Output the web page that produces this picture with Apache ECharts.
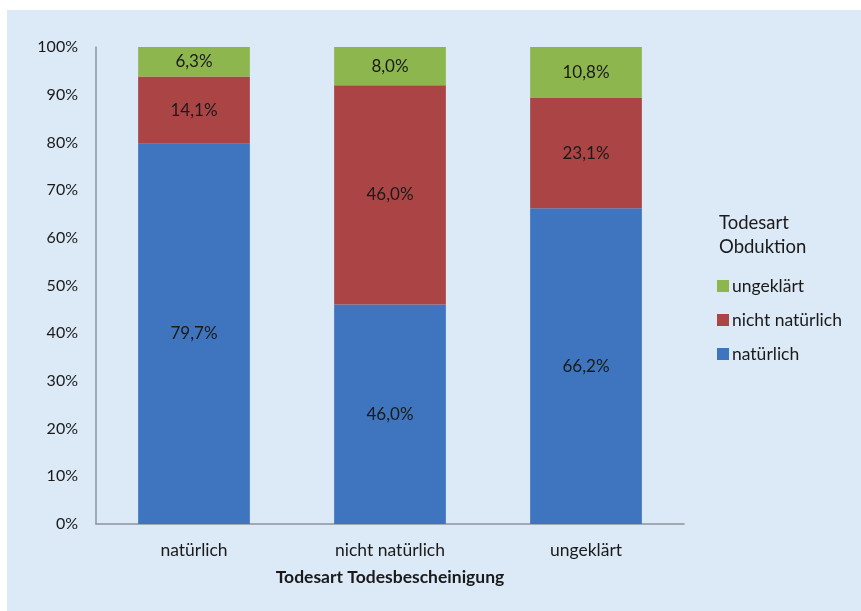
<!DOCTYPE html>
<html><head><meta charset="utf-8">
<script src="https://cdn.jsdelivr.net/npm/echarts@6/dist/echarts.min.js"></script>
<style>
html,body{margin:0;padding:0;background:#fff;}
#bg{position:absolute;left:7px;top:10px;width:854px;height:601px;background:#dce9f6;}
#c{position:absolute;left:0;top:0;width:861px;height:611px;}
</style></head>
<body><div id="bg"></div><div id="c"></div>
<script>
const categories = ['natürlich', 'nicht natürlich', 'ungeklärt'];
const natuerlich = [79.7, 46.0, 66.2];
const nichtNatuerlich = [14.1, 46.0, 23.1];
const ungeklaert = [6.3, 8.0, 10.8];
const yTicks = [0, 10, 20, 30, 40, 50, 60, 70, 80, 90, 100];

const FONT = 'Lato, "Open Sans", sans-serif';
const chart = echarts.init(document.getElementById('c'), null, {renderer: 'canvas'});
const fmt = p => p.value.toFixed(1).replace('.', ',') + '%';
const lbl = {show: true, position: 'inside', formatter: fmt, color: '#1a1a1a', fontSize: 17, fontFamily: FONT};
chart.setOption({
  backgroundColor: 'transparent',
  animation: false,
  title: {
    text: 'Todesart\nObduktion', left: 714, top: 206,
    textStyle: {fontSize: 18.5, fontWeight: 'normal', color: '#1a1a1a', fontFamily: FONT, lineHeight: 24}
  },
  legend: {
    orient: 'vertical', left: 712, top: 271, itemGap: 14,
    itemWidth: 12, itemHeight: 12, icon: 'rect',
    data: ['ungeklärt', 'nicht natürlich', 'natürlich'],
    textStyle: {fontSize: 17.5, color: '#1a1a1a', fontFamily: FONT, padding: [0, 0, 0, -2], lineHeight: 20}
  },
  grid: {left: 96, right: 177, top: 47, bottom: 87},
  xAxis: {
    type: 'category', data: categories,
    name: 'Todesart Todesbescheinigung', nameLocation: 'middle', nameGap: 44,
    nameTextStyle: {fontSize: 17.5, fontWeight: 'bold', color: '#1a1a1a', fontFamily: FONT},
    axisLine: {lineStyle: {color: '#8c949c', width: 1.5}},
    axisTick: {show: false},
    axisLabel: {fontSize: 17.5, color: '#1a1a1a', margin: 17, fontFamily: FONT}
  },
  yAxis: {
    type: 'value', min: 0, max: 100, interval: 10,
    axisLine: {show: true, lineStyle: {color: '#8c949c', width: 1.5}},
    axisTick: {show: false},
    splitLine: {show: false},
    axisLabel: {fontSize: 16, color: '#1a1a1a', margin: 18, fontFamily: FONT,
      formatter: v => yTicks.includes(v) ? v + '%' : ''}
  },
  series: [
    {name: 'natürlich', type: 'bar', stack: 's', data: natuerlich, barWidth: '57%',
     itemStyle: {color: '#3e75be'}, label: lbl},
    {name: 'nicht natürlich', type: 'bar', stack: 's', data: nichtNatuerlich,
     itemStyle: {color: '#ab4545'}, label: lbl},
    {name: 'ungeklärt', type: 'bar', stack: 's', data: ungeklaert,
     itemStyle: {color: '#8db64f'}, label: lbl}
  ]
});
</script></body></html>
